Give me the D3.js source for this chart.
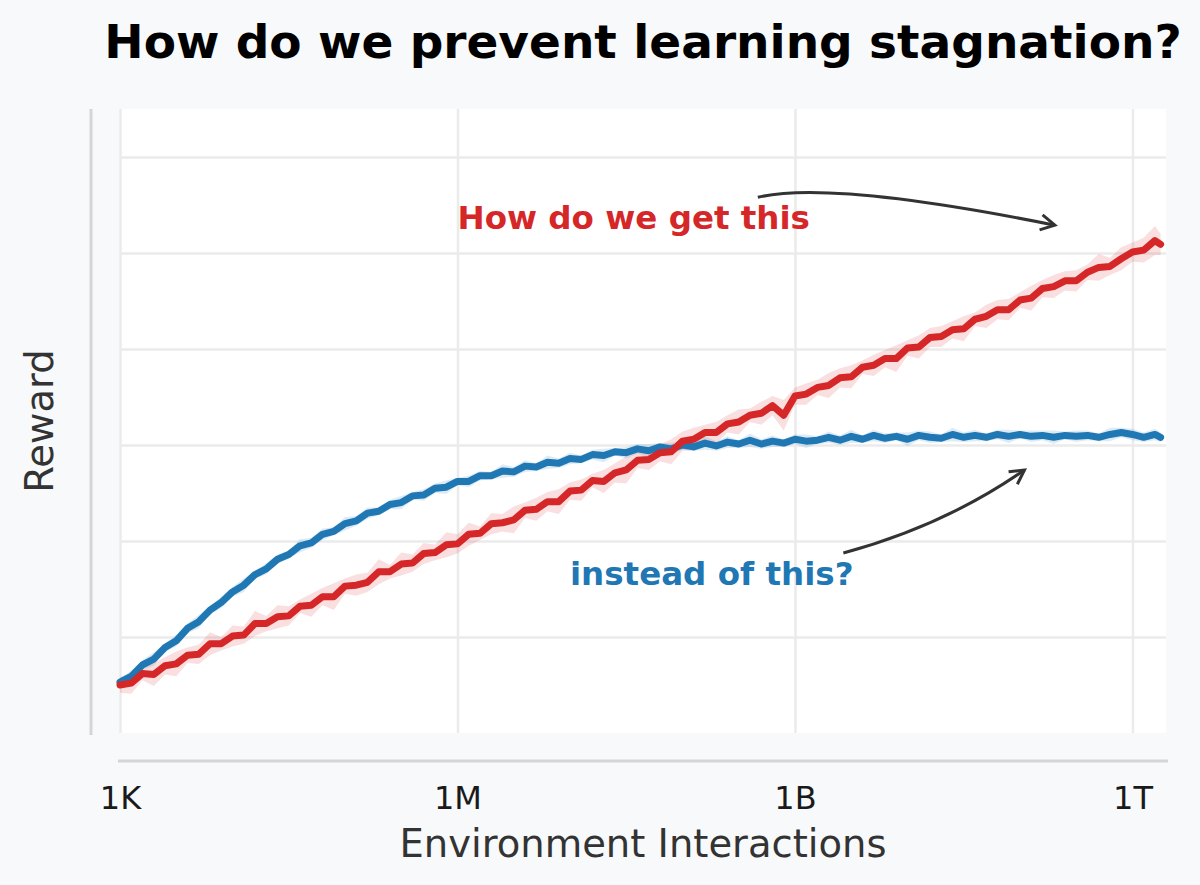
<!DOCTYPE html>
<html>
<head>
<meta charset="utf-8">
<script src="https://cdn.jsdelivr.net/npm/d3@7"></script>
<style>
  body { margin: 0; background: #f8f9fa; }
  svg text { font-family: "DejaVu Sans", sans-serif; }
</style>
</head>
<body>
<svg id="chart" width="1200" height="885"></svg>
<script>
// log10 of environment interactions at each sample
const logSteps = [
  3.0,3.1,3.2,3.3,3.4,3.5,3.6,3.7,3.8,3.9,
  4.0,4.1,4.2,4.3,4.4,4.5,4.6,4.7,4.8,4.9,
  5.0,5.1,5.2,5.3,5.4,5.5,5.6,5.7,5.8,5.9,
  6.0,6.1,6.2,6.3,6.4,6.5,6.6,6.7,6.8,6.9,
  7.0,7.1,7.2,7.3,7.4,7.5,7.6,7.7,7.8,7.9,
  8.0,8.1,8.2,8.3,8.4,8.5,8.6,8.7,8.8,8.9,
  9.0,9.1,9.2,9.3,9.4,9.5,9.6,9.7,9.8,9.9,
  10.0,10.1,10.2,10.3,10.4,10.5,10.6,10.7,10.8,10.9,
  11.0,11.1,11.2,11.3,11.4,11.5,11.6,11.7,11.8,11.9,
  12.0,12.1,12.2,12.25
];

// "How do we get this" - keeps improving
const redReward = [
  0.50,0.52,0.62,0.61,0.70,0.72,0.81,0.82,0.93,0.93,
  1.01,1.02,1.14,1.14,1.21,1.22,1.32,1.33,1.42,1.42,
  1.53,1.54,1.57,1.68,1.68,1.76,1.77,1.87,1.88,1.96,
  1.97,2.07,2.08,2.18,2.19,2.22,2.32,2.33,2.41,2.41,
  2.52,2.53,2.63,2.62,2.71,2.74,2.84,2.85,2.92,2.93,
  3.04,3.06,3.13,3.13,3.22,3.24,3.31,3.33,3.41,3.31,
  3.51,3.53,3.60,3.62,3.70,3.71,3.81,3.83,3.90,3.90,
  4.01,4.02,4.12,4.13,4.20,4.21,4.31,4.34,4.41,4.41,
  4.51,4.53,4.63,4.65,4.71,4.71,4.80,4.85,4.86,4.94,
  5.01,5.03,5.13,5.09
];
const redSpread = [
  0.08,0.11,0.07,0.12,0.09,0.13,0.08,0.10,0.12,0.07,
  0.11,0.09,0.13,0.08,0.12,0.10,0.07,0.12,0.09,0.14,
  0.08,0.11,0.10,0.13,0.07,0.12,0.09,0.11,0.08,0.13,
  0.10,0.12,0.07,0.11,0.09,0.14,0.08,0.12,0.10,0.13,
  0.09,0.11,0.07,0.12,0.10,0.14,0.08,0.11,0.09,0.13,
  0.10,0.12,0.08,0.11,0.09,0.13,0.07,0.12,0.10,0.16,
  0.09,0.11,0.08,0.13,0.10,0.12,0.07,0.11,0.09,0.14,
  0.08,0.12,0.10,0.11,0.09,0.13,0.07,0.12,0.10,0.11,
  0.08,0.13,0.09,0.12,0.10,0.11,0.08,0.14,0.09,0.12,
  0.10,0.13,0.15,0.11
];

// "instead of this?" - plateaus
const blueReward = [
  0.53,0.59,0.71,0.77,0.89,0.96,1.09,1.16,1.28,1.36,
  1.47,1.54,1.65,1.71,1.81,1.86,1.95,1.98,2.07,2.10,
  2.18,2.21,2.29,2.31,2.38,2.40,2.47,2.48,2.55,2.56,
  2.62,2.62,2.68,2.68,2.73,2.72,2.78,2.77,2.82,2.81,
  2.86,2.85,2.90,2.89,2.93,2.92,2.96,2.94,2.98,2.96,
  3.00,2.98,3.02,2.99,3.03,3.01,3.05,3.01,3.04,3.02,
  3.06,3.04,3.05,3.08,3.05,3.09,3.06,3.10,3.07,3.09,
  3.06,3.10,3.08,3.07,3.11,3.08,3.10,3.08,3.11,3.09,
  3.11,3.09,3.10,3.08,3.10,3.09,3.10,3.08,3.11,3.13,
  3.11,3.08,3.11,3.08
];
const blueSpread = [
  0.04,0.06,0.05,0.07,0.04,0.06,0.05,0.07,0.04,0.06,
  0.05,0.07,0.04,0.06,0.05,0.04,0.07,0.05,0.06,0.04,
  0.07,0.05,0.06,0.04,0.05,0.07,0.04,0.06,0.05,0.07,
  0.04,0.06,0.05,0.04,0.07,0.05,0.06,0.04,0.07,0.05,
  0.06,0.04,0.05,0.07,0.04,0.06,0.05,0.07,0.04,0.06,
  0.05,0.04,0.07,0.05,0.06,0.04,0.07,0.05,0.06,0.04,
  0.05,0.07,0.04,0.06,0.05,0.07,0.04,0.06,0.05,0.04,
  0.07,0.05,0.06,0.04,0.07,0.05,0.06,0.04,0.05,0.07,
  0.04,0.06,0.05,0.07,0.04,0.06,0.05,0.04,0.07,0.05,
  0.06,0.05,0.06,0.05
];

const xTicks = [1e3, 1e6, 1e9, 1e12];
const xTickLabels = ["1K", "1M", "1B", "1T"];
const yGrid = [1, 2, 3, 4, 5, 6];

const svg = d3.select("#chart");
const plot = { left: 120, right: 1166, top: 109, bottom: 733 };

const x = d3.scaleLog().domain([1e3, Math.pow(10, 12.298)]).range([plot.left, plot.right]);
const y = d3.scaleLinear().domain([0, 6.5]).range([plot.bottom, plot.top]);

// plot face
svg.append("rect")
  .attr("x", plot.left).attr("y", plot.top)
  .attr("width", plot.right - plot.left).attr("height", plot.bottom - plot.top)
  .attr("fill", "#ffffff");

// grid
const gx = svg.append("g")
  .attr("transform", "translate(0," + plot.bottom + ")")
  .call(d3.axisBottom(x).tickValues(xTicks).tickSize(-(plot.bottom - plot.top)).tickFormat(""));
const gy = svg.append("g")
  .attr("transform", "translate(" + plot.left + ",0)")
  .call(d3.axisLeft(y).tickValues(yGrid).tickSize(-(plot.right - plot.left)).tickFormat(""));
[gx, gy].forEach(g => {
  g.select(".domain").remove();
  g.selectAll("line").attr("stroke", "#ebebeb").attr("stroke-width", 2.5);
});

// offset spines
svg.append("line")
  .attr("x1", 91).attr("x2", 91).attr("y1", plot.top).attr("y2", plot.bottom + 2)
  .attr("stroke", "#d4d5d9").attr("stroke-width", 3);
svg.append("line")
  .attr("x1", plot.left - 2).attr("x2", plot.right + 2).attr("y1", 761).attr("y2", 761)
  .attr("stroke", "#d4d5d9").attr("stroke-width", 3);

// tick labels
const gl = svg.append("g")
  .attr("transform", "translate(0,761)")
  .call(d3.axisBottom(x).tickValues(xTicks).tickSize(0).tickPadding(25)
    .tickFormat((d, i) => xTickLabels[i]));
gl.select(".domain").remove();
gl.selectAll("text")
  .attr("font-size", 32).attr("fill", "#1a1a1a")
  .style("font-family", "'DejaVu Sans', sans-serif");

// series
const series = [
  { name: "blue", values: blueReward, spread: blueSpread, color: "#1f77b4" },
  { name: "red", values: redReward, spread: redSpread, color: "#d62728" }
];

const band = d3.area()
  .x(d => x(Math.pow(10, d.e)))
  .y0(d => y(d.v - d.s))
  .y1(d => y(d.v + d.s));
const line = d3.line()
  .x(d => x(Math.pow(10, d.e)))
  .y(d => y(d.v));

series.forEach(s => {
  const pts = logSteps.map((e, i) => ({ e: e, v: s.values[i], s: s.spread[i] }));
  svg.append("path").datum(pts)
    .attr("d", band)
    .attr("fill", s.color).attr("fill-opacity", 0.15);
});
series.forEach(s => {
  const pts = logSteps.map((e, i) => ({ e: e, v: s.values[i] }));
  svg.append("path").datum(pts)
    .attr("d", line)
    .attr("fill", "none")
    .attr("stroke", s.color)
    .attr("stroke-width", 7)
    .attr("stroke-linejoin", "round")
    .attr("stroke-linecap", "round");
});

// annotations (log10 steps, reward)
const notes = [
  { text: "How do we get this", color: "#d62728", at: [6.0, 5.25],
    arrow: [[8.67, 5.58], [9.31, 5.76], [11.31, 5.29]] },
  { text: "instead of this?", color: "#1f77b4", at: [7.0, 1.54],
    arrow: [[9.43, 1.875], [10.33, 2.16], [11.04, 2.74]] }
];

notes.forEach(n => {
  svg.append("text")
    .attr("x", x(Math.pow(10, n.at[0])))
    .attr("y", y(n.at[1]))
    .attr("font-size", 32.5)
    .attr("font-weight", "bold")
    .attr("fill", n.color)
    .text(n.text);

  const p = n.arrow.map(a => [x(Math.pow(10, a[0])), y(a[1])]);
  const path = d3.path();
  path.moveTo(p[0][0], p[0][1]);
  path.quadraticCurveTo(p[1][0], p[1][1], p[2][0], p[2][1]);
  svg.append("path").attr("d", path.toString())
    .attr("fill", "none").attr("stroke", "#333333").attr("stroke-width", 3);

  const ang = Math.atan2(p[2][1] - p[1][1], p[2][0] - p[1][0]);
  const len = 16, spread = 0.5;
  const head = d3.path();
  head.moveTo(p[2][0] - len * Math.cos(ang - spread), p[2][1] - len * Math.sin(ang - spread));
  head.lineTo(p[2][0], p[2][1]);
  head.lineTo(p[2][0] - len * Math.cos(ang + spread), p[2][1] - len * Math.sin(ang + spread));
  svg.append("path").attr("d", head.toString())
    .attr("fill", "none").attr("stroke", "#333333").attr("stroke-width", 3)
    .attr("stroke-linejoin", "miter");
});

// titles
svg.append("text")
  .attr("x", (plot.left + plot.right) / 2).attr("y", 58)
  .attr("text-anchor", "middle")
  .attr("font-size", 47).attr("font-weight", "bold").attr("fill", "#000")
  .text("How do we prevent learning stagnation?");

svg.append("text")
  .attr("x", (plot.left + plot.right) / 2).attr("y", 857)
  .attr("text-anchor", "middle")
  .attr("font-size", 38.5).attr("fill", "#333333")
  .text("Environment Interactions");

svg.append("text")
  .attr("transform", "translate(53," + ((plot.top + plot.bottom) / 2) + ") rotate(-90)")
  .attr("text-anchor", "middle")
  .attr("font-size", 38.5).attr("fill", "#333333")
  .text("Reward");
</script>
</body>
</html>
